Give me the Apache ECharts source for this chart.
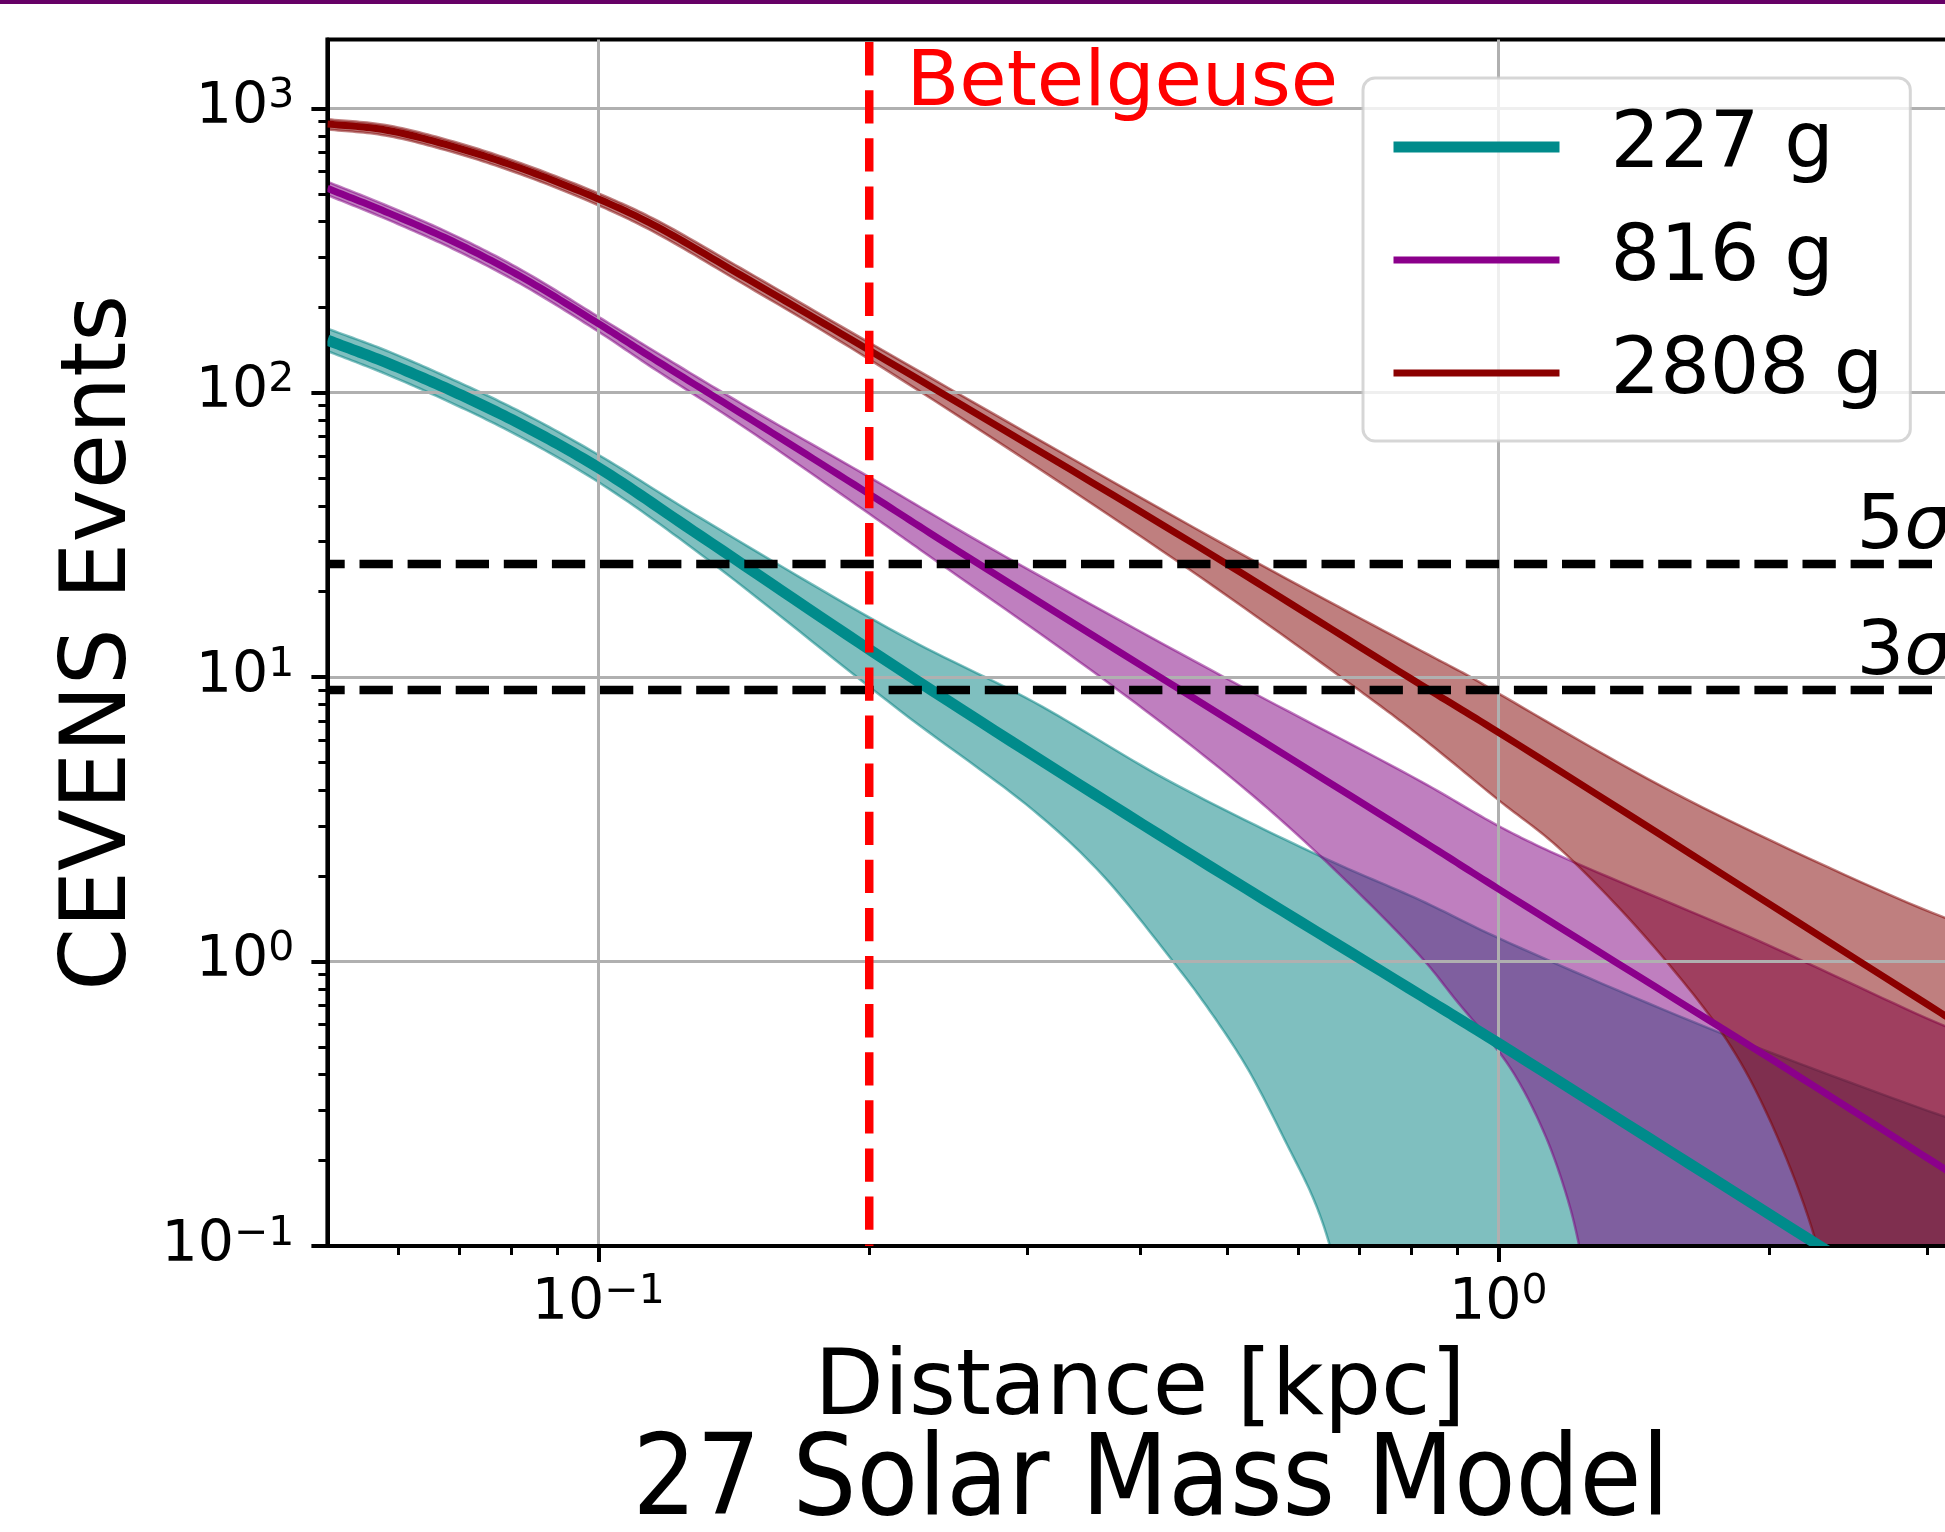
<!DOCTYPE html>
<html>
<head>
<meta charset="utf-8">
<script src="https://cdn.jsdelivr.net/npm/echarts@6/dist/echarts.min.js"></script>
<style>
html,body{margin:0;padding:0;background:#fff;}
#main{width:1945px;height:1532px;}
</style>
</head>
<body>
<div id="main"></div>
<script>
// values: [distance kpc, CEVENS events]
var line227 = [[0.05,153],[0.058,128],[0.069,101],[0.082,77.5],[0.1,54.5],[0.13,31.3],[0.2166,10.6],[0.42,2.79],[0.82,0.76],[1.0,0.516],[2.22,0.105],[3.4,0.045]];
var hi227 = [[0.05,168],[0.058,141],[0.069,111],[0.082,85.6],[0.1,60.5],[0.13,36.2],[0.2166,14.1],[0.3044,8.19],[0.4285,4.35],[0.635,2.34],[0.82,1.64],[1.0,1.21],[1.77,0.559],[3.14,0.284],[3.4,0.262]];
var lo227 = [[0.05,140],[0.058,116.5],[0.069,91.4],[0.082,69.8],[0.1,48.5],[0.13,27],[0.2166,7.6],[0.3044,3.4],[0.3614,2.05],[0.4351,1.0],[0.472,0.71],[0.525,0.427],[0.583,0.226],[0.624,0.145],[0.65,0.1],[0.675,0.06],[0.70,0.03],[3.4,0.03]];

var line816 = [[0.05,523],[0.058,433],[0.069,340],[0.082,256],[0.1,175],[0.115,132],[0.144,84.7],[0.2,44],[0.25,28],[0.82,2.68],[1.0,1.8],[2.1,0.416],[3.4,0.158]];
var hi816 = [[0.05,552],[0.058,457],[0.069,359],[0.082,271],[0.1,185],[0.115,141],[0.144,91.8],[0.2,50.5],[0.275,28],[0.4957,10],[0.82,4.3],[1.0,3.0],[1.154,2.4],[1.926,1.2],[3.108,0.6],[3.4,0.54]];
var lo816 = [[0.05,495],[0.058,409],[0.069,320],[0.082,241],[0.1,164],[0.115,122],[0.144,77],[0.2,37.5],[0.228,28],[0.3614,10],[0.5086,4.35],[0.635,2.34],[0.82,1.04],[0.897,0.733],[1.029,0.427],[1.125,0.249],[1.195,0.145],[1.23,0.1],[1.265,0.06],[1.3,0.03],[3.4,0.03]];

var line2808 = [[0.05,881],[0.058,839],[0.069,733],[0.082,615],[0.1,480],[0.115,390],[0.144,259],[0.2,141],[0.459,29.4],[0.82,9.4],[1.0,6.4],[3.108,0.657],[3.4,0.55]];
var hi2808 = [[0.05,915],[0.058,873],[0.069,764],[0.082,641],[0.1,502],[0.115,410],[0.144,274],[0.2,150],[0.5086,28],[0.82,12.4],[0.932,10],[1.0,8.77],[1.624,3.7],[3.108,1.44],[3.4,1.32]];
var lo2808 = [[0.05,843],[0.058,802],[0.069,700],[0.082,586],[0.1,456],[0.115,369],[0.144,244],[0.2,131],[0.4216,28],[0.70,9.0],[0.82,6.17],[1.0,3.7],[1.174,2.47],[1.538,1.0],[1.879,0.416],[2.26,0.1],[2.33,0.05],[2.4,0.03],[3.4,0.03]];

var seriesNames = ['227 g', '816 g', '2808 g'];
var sigmaLevels = [25, 9];           // 5 sigma, 3 sigma
var betelgeuseDist = 0.2;
var xRange = [0.05, 3.2];
var yRange = [0.1, 1745];
var xMajor = [0.1, 1];
var xMinor = [0.06,0.07,0.08,0.09,0.2,0.3,0.4,0.5,0.6,0.7,0.8,0.9,2,3];
var yMajor = [0.1, 1, 10, 100, 1000];
var yMinor = [0.2,0.3,0.4,0.5,0.6,0.7,0.8,0.9,2,3,4,5,6,7,8,9,20,30,40,50,60,70,80,90,200,300,400,500,600,700,800,900];
var notePos = [[0.22, 1000], [2.5, 27.8], [2.5, 10]];
var noteText = ['Betelgeuse', '{n|5}{g|σ}', '{n|3}{g|σ}'];

var FONT = 'DejaVu Sans';
var colors = ['#008b8b', '#8b008b', '#8b0000'];
var fills = ['rgba(0,128,128,0.5)', 'rgba(128,0,128,0.5)', 'rgba(128,0,0,0.5)'];
var widths = [11, 7, 7];

function powLabel(v){
    var e = Math.round(Math.log(v) / Math.LN10);
    return '{b|10}{s|' + (e < 0 ? '\u2212' + (-e) : e) + '}';
}
var powRich = {
    b: {fontSize: 57, fontFamily: FONT, color: '#000', lineHeight: 65},
    s: {fontSize: 41, fontFamily: FONT, color: '#000', lineHeight: 41, verticalAlign: 'top'}
};

// centripetal catmull-rom through pixel points
function spline(p, n){
    if (p.length < 3) return p.slice();
    function d(a, b){ return Math.pow(Math.hypot(b[0]-a[0], b[1]-a[1]), 0.5) || 1e-4; }
    function mix(a, b, wa, wb){ return [a[0]*wa + b[0]*wb, a[1]*wa + b[1]*wb]; }
    var out = [];
    for (var i = 0; i < p.length - 1; i++){
        var p1 = p[i], p2 = p[i+1];
        var p0 = i > 0 ? p[i-1] : [2*p1[0]-p2[0], 2*p1[1]-p2[1]];
        var p3 = i < p.length - 2 ? p[i+2] : [2*p2[0]-p1[0], 2*p2[1]-p1[1]];
        var t0 = 0, t1 = t0 + d(p0, p1), t2 = t1 + d(p1, p2), t3 = t2 + d(p2, p3);
        for (var k = 0; k < n; k++){
            var t = t1 + (t2 - t1) * k / n;
            var a1 = mix(p0, p1, (t1-t)/(t1-t0), (t-t0)/(t1-t0));
            var a2 = mix(p1, p2, (t2-t)/(t2-t1), (t-t1)/(t2-t1));
            var a3 = mix(p2, p3, (t3-t)/(t3-t2), (t-t2)/(t3-t2));
            var b1 = mix(a1, a2, (t2-t)/(t2-t0), (t-t0)/(t2-t0));
            var b2 = mix(a2, a3, (t3-t)/(t3-t1), (t-t1)/(t3-t1));
            out.push(mix(b1, b2, (t2-t)/(t2-t1), (t-t1)/(t2-t1)));
        }
    }
    out.push(p[p.length - 1]);
    return out;
}

function clipOf(params){
    var cs = params.coordSys;
    return {type: 'rect', shape: {x: cs.x, y: cs.y, width: cs.width, height: cs.height}};
}

function band(hi, lo, color){
    return {
        type: 'custom', coordinateSystem: 'cartesian2d',
        xAxisIndex: 0, yAxisIndex: 0, z: -1, silent: true,
        data: [[1, 1]],
        renderItem: function(params, api){
            var top = spline(hi.map(function(v){ return api.coord(v); }), 16);
            var bot = spline(lo.slice().reverse().map(function(v){ return api.coord(v); }), 16);
            return {
                type: 'polygon',
                shape: {points: top.concat(bot)},
                style: {fill: color, stroke: color, lineWidth: 2.5},
                clipPath: clipOf(params)
            };
        }
    };
}

function curveDraw(data, color, width){
    return {
        type: 'custom', coordinateSystem: 'cartesian2d',
        xAxisIndex: 0, yAxisIndex: 0, z: 3, silent: true,
        data: [[1, 1]],
        renderItem: function(params, api){
            var pts = spline(data.map(function(v){ return api.coord(v); }), 16);
            return {
                type: 'polyline',
                shape: {points: pts},
                style: {fill: null, stroke: color, lineWidth: width, lineJoin: 'round'},
                clipPath: clipOf(params)
            };
        }
    };
}

// carries the legend entry only, drawn by curveDraw
function legendCarrier(name, data, color){
    return {
        type: 'line', name: name, data: data,
        xAxisIndex: 0, yAxisIndex: 0, symbol: 'none', silent: true,
        color: color, itemStyle: {color: color},
        lineStyle: {color: color, width: 0, opacity: 0}
    };
}

function dashed(data, color, offset){
    return {
        type: 'line', data: data, xAxisIndex: 0, yAxisIndex: 0,
        symbol: 'none', z: 4, silent: true,
        lineStyle: {color: color, width: 8.5, type: [33.3, 14.8], dashOffset: offset, cap: 'butt', opacity: 1}
    };
}

var series = [
    band(hi227, lo227, fills[0]),
    band(hi816, lo816, fills[1]),
    band(hi2808, lo2808, fills[2]),
    curveDraw(line227, colors[0], widths[0]),
    curveDraw(line816, colors[1], widths[1]),
    curveDraw(line2808, colors[2], widths[2]),
    legendCarrier(seriesNames[0], line227, colors[0]),
    legendCarrier(seriesNames[1], line816, colors[1]),
    legendCarrier(seriesNames[2], line2808, colors[2]),
    dashed([[xRange[0], sigmaLevels[0]], [xRange[1], sigmaLevels[0]]], '#000', 16),
    dashed([[xRange[0], sigmaLevels[1]], [xRange[1], sigmaLevels[1]]], '#000', 16),
    dashed([[betelgeuseDist, yRange[1]], [betelgeuseDist, yRange[0]]], '#ff0000', 45.5),
    {
        type: 'scatter', xAxisIndex: 0, yAxisIndex: 0, symbolSize: 0, z: 6, silent: true,
        itemStyle: {opacity: 1},
        data: notePos.map(function(p, i){
            return {
                value: p,
                label: {formatter: noteText[i], color: i === 0 ? '#ff0000' : '#000'}
            };
        }),
        label: {
            show: true, position: [0, 0], align: 'left', verticalAlign: 'bottom', offset: [0, 15],
            fontSize: 77, lineHeight: 77, fontFamily: FONT, opacity: 1,
            rich: {
                n: {fontSize: 75, lineHeight: 75, fontFamily: FONT, color: '#000'},
                g: {fontSize: 75, lineHeight: 75, fontFamily: FONT, fontStyle: 'italic', color: '#000'}
            }
        }
    }
];

var option = {
    animation: false,
    backgroundColor: '#fff',
    textStyle: {fontFamily: FONT},
    title: {
        text: '27 Solar Mass Model',
        left: 1151, top: 1429, textAlign: 'center', padding: 0,
        textStyle: {fontSize: 112, lineHeight: 112, fontFamily: 'DejaVu Sans Condensed', fontWeight: 'normal', color: '#000'}
    },
    legend: {
        data: seriesNames.map(function(n, i){
            return {
                name: n,
                lineStyle: {width: widths[i], color: colors[i], opacity: 1},
                itemStyle: {opacity: 0, color: 'transparent', borderWidth: 0}
            };
        }),
        orient: 'vertical', left: 1363, top: 78,
        itemWidth: 166, itemHeight: 78, itemGap: 35,
        padding: [30, 27, 29, 25],
        backgroundColor: 'rgba(255,255,255,0.8)',
        borderColor: 'rgba(204,204,204,0.8)', borderWidth: 3, borderRadius: 12,
        selectedMode: false, z: 10,
        textStyle: {fontSize: 78, lineHeight: 78, fontFamily: FONT, color: '#000', padding: [0, 0, 0, 46]}
    },
    graphic: [{type: 'rect', left: 0, top: 0, shape: {width: 1945, height: 4}, style: {fill: '#660066'}, z: 100}],
    grid: {
        left: 327.4, top: 39.5, width: 1625.5, height: 1206.4,
        show: true, borderColor: '#000', borderWidth: 4, backgroundColor: 'transparent',
        outerBoundsMode: 'none', containLabel: false
    },
    xAxis: [{
        type: 'log', logBase: 10, min: xRange[0], max: xRange[1], position: 'bottom',
        name: 'Distance [kpc]', nameLocation: 'middle', nameGap: 100,
        nameTextStyle: {fontSize: 90, fontFamily: FONT, color: '#000'},
        axisLine: {show: true, lineStyle: {color: '#000', width: 4}},
        axisTick: {show: true, length: 16, lineStyle: {color: '#000', width: 4}, customValues: xMajor},
        axisLabel: {margin: 26, customValues: xMajor, formatter: powLabel, rich: powRich},
        splitLine: {show: true, lineStyle: {color: '#b0b0b0', width: 3}}
    }, {
        type: 'log', logBase: 10, min: xRange[0], max: xRange[1], position: 'bottom',
        axisLine: {show: false},
        axisTick: {show: true, length: 9, lineStyle: {color: '#000', width: 3}, customValues: xMinor},
        axisLabel: {show: false},
        splitLine: {show: false}
    }],
    yAxis: [{
        type: 'log', logBase: 10, min: yRange[0], max: yRange[1], position: 'left',
        name: 'CEVENS Events', nameLocation: 'middle', nameGap: 181,
        nameTextStyle: {fontSize: 90, fontFamily: FONT, color: '#000'},
        axisLine: {show: true, lineStyle: {color: '#000', width: 4}},
        axisTick: {show: true, length: 16, lineStyle: {color: '#000', width: 4}, customValues: yMajor},
        axisLabel: {margin: 33, customValues: yMajor, formatter: powLabel, rich: powRich},
        splitLine: {show: true, lineStyle: {color: '#b0b0b0', width: 3}}
    }, {
        type: 'log', logBase: 10, min: yRange[0], max: yRange[1], position: 'left',
        axisLine: {show: false},
        axisTick: {show: true, length: 9, lineStyle: {color: '#000', width: 3}, customValues: yMinor},
        axisLabel: {show: false},
        splitLine: {show: false}
    }],
    series: series
};

var chart = echarts.init(document.getElementById('main'));
chart.setOption(option);
</script>
</body>
</html>
